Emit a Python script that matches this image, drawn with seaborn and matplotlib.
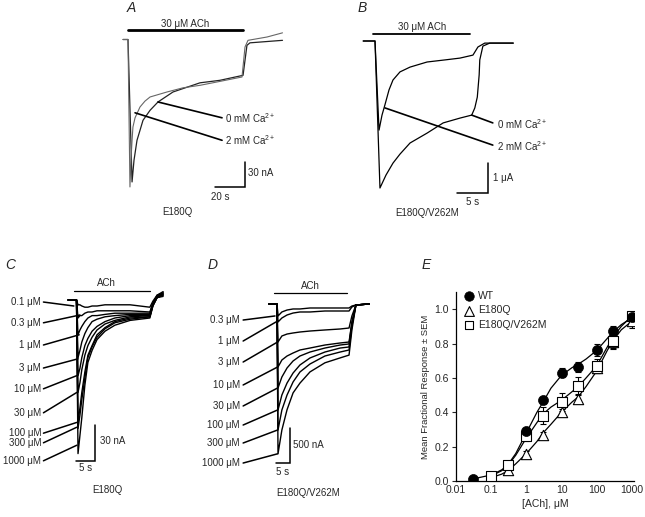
import matplotlib
matplotlib.use("Agg")
import matplotlib.pyplot as plt
import seaborn as sns
from matplotlib.ticker import FixedLocator, LogLocator, NullFormatter

sns.set_style("white")
plt.rcParams['font.family'] = ['Liberation Sans', 'DejaVu Sans']
plt.rcParams['mathtext.default'] = 'regular'
plt.rcParams['font.size'] = 7

# ---------------- data ----------------
# Panel A: E180Q, 30 uM ACh (time in s, current in nA)
a_time_2ca = [-3.3, 0, 1.3, 2, 2.7, 3.3, 4.7, 8, 11.3, 14.7, 26, 36.7, 48, 59.3, 76, 78, 80, 92.7, 103]
a_curr_2ca = [0, 0, -177, -144, -121, -105, -94, -81, -74, -69, -63, -58, -55, -51, -45, -9, -1, 3, 8]
a_time_0ca = [-3.3, 0, 2.7, 4, 6, 10, 14.7, 20, 30, 48, 61.3, 76.7, 79.3, 81.3, 103]
a_curr_0ca = [0, 0, -171, -145, -121, -97, -85, -75, -63, -52, -49, -43, -7, -4, -1]

# Panel B: E180Q/V262M, 30 uM ACh (time in s, current in uA)
b_time_0ca = [-1.9, 0, 0.65, 1.13, 1.6, 2.26, 2.9, 4.03, 5.65, 8.4, 11.3, 13.7, 15.8, 16.6, 17.7, 22.3]
b_curr_0ca = [0, 0, -2.97, -2.47, -2.13, -1.63, -1.3, -1.03, -0.87, -0.7, -0.63, -0.57, -0.47, -0.2, -0.07, -0.07]
b_time_2ca = [-1.9, 0, 0.8, 1.77, 2.9, 4.03, 5.65, 8.4, 11, 13.7, 15.6, 16.1, 16.5, 16.8, 16.9, 17.4, 18.5, 22.3]
b_curr_2ca = [0, 0, -4.9, -4.47, -4.07, -3.77, -3.4, -3.07, -2.73, -2.57, -2.47, -2.23, -1.87, -1.13, -0.63, -0.17, -0.07, -0.07]

# Panel C: E180Q concentration series (time in s, current in nA)
c_labels = ['0.1 \u03bcM', '0.3 \u03bcM', '1 \u03bcM', '3 \u03bcM', '10 \u03bcM', '30 \u03bcM',
            '100 \u03bcM', '300 \u03bcM', '1000 \u03bcM']
c_time = [-2.2, 0, 0.4, 0.9, 1.4, 2.2, 3.0, 4.1, 5.4, 7.5, 10.1, 14.1, 19.3, 20.1, 21.2, 22.8]
c_currents = [
    [0, 0, -4, -4, -5, -6, -6, -5, -5, -4, -4, -4, -6, -1, 4, 7],
    [0, 0, -15, -13, -13, -11, -10, -10, -9, -9, -9, -9, -10, -3, 4, 6],
    [0, 0, -29, -25, -22, -18, -15, -13, -13, -12, -11, -11, -11, -3, 3, 6],
    [0, 0, -48, -42, -35, -28, -23, -18, -16, -14, -13, -12, -12, -3, 3, 5],
    [0, 0, -63, -57, -48, -38, -32, -26, -22, -18, -15, -13, -13, -4, 3, 5],
    [0, 0, -77, -69, -58, -46, -38, -31, -25, -20, -17, -14, -13, -4, 2, 5],
    [0, 0, -102, -90, -77, -60, -46, -38, -29, -23, -18, -15, -14, -4, 2, 4],
    [0, 0, -107, -96, -83, -65, -48, -39, -31, -24, -19, -16, -14, -5, 2, 4],
    [0, 0, -128, -113, -98, -71, -52, -42, -33, -26, -21, -17, -15, -5, 2, 3],
]
c_label_curr = [-1.7, -19, -37.5, -56.7, -74, -94, -111, -119, -134]
c_pointer_t = [-0.7, 0.9, 0.7, 0.4, 0.1, 0.1, 0.1, 0.1, 0.1]
c_pointer_curr = [-5, -12.5, -29, -49, -63, -77, -102, -106, -121]

# Panel D: E180Q/V262M concentration series (time in s, current in nA)
d_labels = ['0.3 \u03bcM', '1 \u03bcM', '3 \u03bcM', '10 \u03bcM', '30 \u03bcM', '100 \u03bcM',
            '300 \u03bcM', '1000 \u03bcM']
d_time = [-2.8, 0, 0.35, 1.7, 3.5, 5.6, 8.0, 11.5, 16.7, 22.0, 25.1, 26.1, 27.5, 32.1]
d_currents = [
    [0, 0, -171, -114, -86, -71, -71, -57, -57, -57, -57, -29, -14, 0],
    [0, 0, -257, -200, -157, -129, -114, -114, -100, -100, -100, -43, -14, 0],
    [0, 0, -543, -457, -429, -414, -400, -386, -371, -357, -343, -171, -14, 0],
    [0, 0, -900, -800, -743, -700, -657, -629, -586, -557, -543, -257, -14, 0],
    [0, 0, -1200, -1043, -914, -814, -743, -686, -629, -586, -571, -271, -14, 0],
    [0, 0, -1514, -1300, -1129, -986, -871, -771, -686, -629, -614, -300, -14, 0],
    [0, 0, -1800, -1514, -1300, -1114, -971, -857, -743, -686, -657, -314, -14, 0],
    [0, 0, -2140, -1800, -1510, -1270, -1130, -970, -840, -770, -730, -370, -14, 0],
]
d_label_curr = [-229, -529, -829, -1157, -1457, -1729, -1986, -2272]
d_pointer_t = [-0.7, 0.35, 0.2, 0.2, 0.2, 0.2, 0.2, 0.2]
d_pointer_curr = [-171, -240, -543, -900, -1200, -1514, -1800, -2140]

# Panel E: concentration-response (fraction of max)
wt_conc = [0.03, 1, 3, 10, 30, 100, 300, 1000]
wt_mean = [0.01, 0.29, 0.47, 0.63, 0.665, 0.76, 0.875, 0.955]
wt_sem = [0.005, 0.02, 0.02, 0.025, 0.03, 0.035, 0.025, 0.01]
mut_conc = [0.1, 0.3, 1, 3, 10, 30, 100, 300, 1000]
e180q_mean = [0.025, 0.065, 0.16, 0.27, 0.40, 0.48, 0.66, 0.81, 0.93]
e180q_sem = [0.005, 0.01, 0.015, 0.015, 0.02, 0.02, 0.03, 0.04, 0.04]
dm_mean = [0.03, 0.095, 0.26, 0.38, 0.46, 0.555, 0.67, 0.815, 0.96]
dm_sem = [0.005, 0.01, 0.03, 0.05, 0.05, 0.05, 0.04, 0.04, 0.02]

wt_fit_x = [0.03, 0.1, 0.2, 0.3, 0.5, 1, 2, 3, 5, 10, 20, 30, 50, 100, 200, 300, 500, 1000]
wt_fit_y = [0.012, 0.035, 0.065, 0.095, 0.16, 0.28, 0.40, 0.46, 0.54, 0.615, 0.66, 0.68, 0.71, 0.76, 0.83, 0.87, 0.91, 0.95]
mut_fit_x = [0.1, 0.2, 0.3, 0.5, 1, 2, 3, 5, 10, 20, 30, 50, 100, 200, 300, 500, 1000]
e180q_fit_y = [0.02, 0.04, 0.06, 0.1, 0.16, 0.23, 0.28, 0.33, 0.4, 0.46, 0.49, 0.55, 0.64, 0.76, 0.82, 0.88, 0.93]
dm_fit_y = [0.03, 0.06, 0.09, 0.15, 0.25, 0.34, 0.39, 0.43, 0.47, 0.52, 0.55, 0.6, 0.67, 0.78, 0.84, 0.9, 0.96]

# ---------------- figure ----------------
W, H = 645, 517
fig = plt.figure(figsize=(W / 100, H / 100), dpi=100)
fig.patch.set_facecolor('white')


def trace_axes(box, t0_px, base_px, px_per_t, px_per_i):
    # box in pixels (left, top, right, bottom); maps time/current onto it
    x0, y0, x1, y1 = box
    ax = fig.add_axes([x0 / W, 1 - y1 / H, (x1 - x0) / W, (y1 - y0) / H])
    ax.set_xlim((x0 - t0_px) / px_per_t, (x1 - t0_px) / px_per_t)
    ax.set_ylim((base_px - y1) / px_per_i, (base_px - y0) / px_per_i)
    ax.axis('off')
    ax.patch.set_alpha(0)
    return ax


def trace(ax, t, i, color='black', lw=0.9):
    sns.lineplot(x=t, y=i, ax=ax, color=color, lw=lw, sort=False, estimator=None)


def scale_bar(ax, t_corner, i_corner, dt, di, lw=1.1):
    ax.plot([t_corner - dt, t_corner, t_corner], [i_corner, i_corner, i_corner + di],
            color='black', lw=lw, solid_joinstyle='miter')


# ----- A -----
axA = trace_axes((110, 0, 300, 225), 128, 39.5, 1.5, 0.833)
trace(axA, a_time_0ca, a_curr_0ca, color='#222222')
trace(axA, a_time_2ca, a_curr_2ca, color='#666666', lw=0.8)
axA.plot([0, 76.7], [11.4, 11.4], color='black', lw=2)
axA.text(38, 18.6, '30 \u03bcM ACh', ha='center', va='center')
axA.plot([20, 62.7], [-75, -94], color='black', lw=1.2)
axA.plot([4.7, 62.7], [-88, -121], color='black', lw=1.2)
axA.text(64.7, -94, '0 mM Ca$^{2+}$', ha='left', va='center')
axA.text(64.7, -121, '2 mM Ca$^{2+}$', ha='left', va='center')
scale_bar(axA, 78, -177, 20, 30)
axA.text(80, -160, '30 nA', ha='left', va='center')
axA.text(61.3, -189, '20 s', ha='center', va='center')
axA.text(32.7, -207, 'E180Q', ha='center', va='center')

# ----- B -----
axB = trace_axes((355, 0, 560, 225), 375, 41, 6.2, 30)
trace(axB, b_time_0ca, b_curr_0ca)
trace(axB, b_time_2ca, b_curr_2ca)
axB.plot([-0.3, 15.3], [0.23, 0.23], color='black', lw=1.3)
axB.text(7.6, 0.47, '30 \u03bcM ACh', ha='center', va='center')
axB.plot([15.6, 19.0], [-2.47, -2.73], color='black', lw=1.2)
axB.plot([1.6, 19.0], [-2.23, -3.47], color='black', lw=1.2)
axB.text(19.7, -2.77, '0 mM Ca$^{2+}$', ha='left', va='center')
axB.text(19.7, -3.5, '2 mM Ca$^{2+}$', ha='left', va='center')
scale_bar(axB, 18.2, -5.07, 5, 1)
axB.text(19.0, -4.57, '1 \u03bcA', ha='left', va='center')
axB.text(15.8, -5.37, '5 s', ha='center', va='center')
axB.text(8.4, -5.73, 'E180Q/V262M', ha='center', va='center')

# ----- C -----
axC = trace_axes((0, 255, 180, 505), 76.5, 300, 3.8, 1.2)
for cur in c_currents:
    trace(axC, c_time, cur, lw=1.0)
for lab, li, pt, pi in zip(c_labels, c_label_curr, c_pointer_t, c_pointer_curr):
    axC.text(-9.34, li, lab, ha='right', va='center')
    axC.plot([-8.7, pt], [li, pi], color='black', lw=1.1)
axC.plot([-0.66, 19.3], [7.5, 7.5], color='black', lw=0.9)
axC.text(8, 14, 'ACh', ha='center', va='center')
scale_bar(axC, 4.9, -134, 5, 30)
axC.text(6.2, -117.5, '30 nA', ha='left', va='center')
axC.text(2.5, -140, '5 s', ha='center', va='center')
axC.text(8, -158, 'E180Q', ha='center', va='center')

# ----- D -----
axD = trace_axes((195, 255, 385, 505), 277, 304, 2.87, 0.07)
for cur in d_currents:
    trace(axD, d_time, cur, lw=1.0)
for lab, li, pt, pi in zip(d_labels, d_label_curr, d_pointer_t, d_pointer_curr):
    axD.text(-12.9, li, lab, ha='right', va='center')
    axD.plot([-11.8, pt], [li, pi], color='black', lw=1.1)
axD.plot([-1.0, 24.4], [157, 157], color='black', lw=0.9)
axD.text(11.5, 257, 'ACh', ha='center', va='center')
scale_bar(axD, 4.5, -2271, 5, 500)
axD.text(5.6, -2014, '500 nA', ha='left', va='center')
axD.text(2.1, -2400, '5 s', ha='center', va='center')
axD.text(10.8, -2700, 'E180Q/V262M', ha='center', va='center')

# ----- E -----
axE = fig.add_axes([456 / W, 1 - 481 / H, 178 / W, 189 / H])
axE.set_xscale('log')
sns.lineplot(x=wt_fit_x, y=wt_fit_y, ax=axE, color='black', lw=0.9, sort=False, estimator=None)
sns.lineplot(x=mut_fit_x, y=e180q_fit_y, ax=axE, color='black', lw=0.9, sort=False, estimator=None)
sns.lineplot(x=mut_fit_x, y=dm_fit_y, ax=axE, color='black', lw=0.9, sort=False, estimator=None)
for xs, ys, es in [(wt_conc, wt_mean, wt_sem), (mut_conc, e180q_mean, e180q_sem),
                   (mut_conc, dm_mean, dm_sem)]:
    axE.errorbar(xs, ys, yerr=es, fmt='none', ecolor='black', elinewidth=0.8,
                 capsize=2.5, capthick=0.8, zorder=2)
sns.scatterplot(x=mut_conc, y=e180q_mean, ax=axE, marker='^', s=55, color='white',
                edgecolor='black', linewidth=0.8, label='E180Q', zorder=3)
sns.scatterplot(x=mut_conc, y=dm_mean, ax=axE, marker='s', s=45, color='white',
                edgecolor='black', linewidth=0.8, label='E180Q/V262M', zorder=4)
sns.scatterplot(x=wt_conc, y=wt_mean, ax=axE, marker='o', s=52, color='black',
                edgecolor='black', linewidth=0.5, label='WT', zorder=5)
handles, labels = axE.get_legend_handles_labels()
order = [labels.index('WT'), labels.index('E180Q'), labels.index('E180Q/V262M')]
axE.legend([handles[k] for k in order], [labels[k] for k in order], loc='upper left',
           bbox_to_anchor=(0.0, 1.04), frameon=False, handletextpad=0.3,
           labelspacing=0.45, borderaxespad=0.2, handlelength=1.2, fontsize=7.5,
           markerscale=0.95)
axE.set_xlim(0.01, 1150)
axE.set_ylim(0, 1.1)
axE.xaxis.set_major_locator(FixedLocator([0.01, 0.1, 1, 10, 100, 1000]))
axE.set_xticklabels(['0.01', '0.1', '1', '10', '100', '1000'])
axE.xaxis.set_minor_locator(LogLocator(base=10, subs=range(2, 10)))
axE.xaxis.set_minor_formatter(NullFormatter())
axE.set_yticks([0, 0.2, 0.4, 0.6, 0.8, 1.0])
axE.set_yticklabels(['0.0', '0.2', '0.4', '0.6', '0.8', '1.0'])
axE.tick_params(axis='x', which='major', direction='in', length=3, width=0.8, labelsize=7.5, pad=3)
axE.tick_params(axis='x', which='minor', direction='in', length=1.5, width=0.6)
axE.tick_params(axis='y', direction='out', length=3, width=0.8, labelsize=7.5, left=True, pad=2)
axE.set_xlabel('[ACh], \u03bcM', fontsize=7.5, labelpad=3)
axE.set_ylabel('Mean Fractional Response \u00b1 SEM', fontsize=6.8, labelpad=3)
sns.despine(ax=axE)
for sp in ['left', 'bottom']:
    axE.spines[sp].set_linewidth(0.9)
    axE.spines[sp].set_color('black')

# panel letters
for letter, px, py in [('A', 127, 8), ('B', 358, 8), ('C', 5, 265), ('D', 208, 265), ('E', 422, 265)]:
    fig.text(px / W, 1 - py / H, letter, fontsize=10, style='italic', ha='left', va='center')

fig.savefig('out.png', dpi=100, facecolor='white')
